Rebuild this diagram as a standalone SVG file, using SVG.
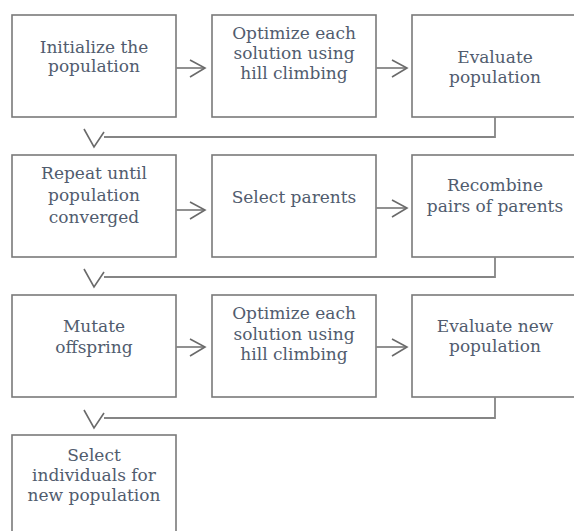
<svg xmlns="http://www.w3.org/2000/svg" width="574" height="531" viewBox="0 0 574 531">
<style>
.box{fill:#fff;stroke:#7a7a7a;stroke-width:1.6}
.t{font-family:"DejaVu Serif","Liberation Serif",serif;font-size:17px;fill:#515c6e;text-anchor:middle}
.c{fill:none;stroke:#858585;stroke-width:1.8}
.h{fill:none;stroke:#6a6a6a;stroke-width:1.6}
</style>
<rect width="574" height="531" fill="#fff"/>
<g id="n1"><rect class="box" x="12" y="15" width="164" height="102"/><text class="t" x="94" y="53">Initialize the</text><text class="t" x="94" y="72">population</text></g>
<g id="n2"><rect class="box" x="212" y="15" width="164" height="102"/><text class="t" x="294" y="39">Optimize each</text><text class="t" x="294" y="59">solution using</text><text class="t" x="294" y="79">hill climbing</text></g>
<g id="n3"><rect class="box" x="412" y="15" width="166" height="102"/><text class="t" x="495" y="63">Evaluate</text><text class="t" x="495" y="83">population</text></g>
<g id="n4"><rect class="box" x="12" y="155" width="164" height="102"/><text class="t" x="94" y="179">Repeat until</text><text class="t" x="94" y="201">population</text><text class="t" x="94" y="223">converged</text></g>
<g id="n5"><rect class="box" x="212" y="155" width="164" height="102"/><text class="t" x="294" y="203">Select parents</text></g>
<g id="n6"><rect class="box" x="412" y="155" width="166" height="102"/><text class="t" x="495" y="191">Recombine</text><text class="t" x="495" y="212">pairs of parents</text></g>
<g id="n7"><rect class="box" x="12" y="295" width="164" height="102"/><text class="t" x="94" y="332">Mutate</text><text class="t" x="94" y="353">offspring</text></g>
<g id="n8"><rect class="box" x="212" y="295" width="164" height="102"/><text class="t" x="294" y="319">Optimize each</text><text class="t" x="294" y="340">solution using</text><text class="t" x="294" y="360">hill climbing</text></g>
<g id="n9"><rect class="box" x="412" y="295" width="166" height="102"/><text class="t" x="495" y="332">Evaluate new</text><text class="t" x="495" y="352">population</text></g>
<g id="n10"><rect class="box" x="12" y="435" width="164" height="110"/><text class="t" x="94" y="461">Select</text><text class="t" x="94" y="481">individuals for</text><text class="t" x="94" y="501">new population</text></g>
<g id="connectors">
<path class="c" d="M176 68H205"/><path class="h" d="M190 60L205 68L190 77"/>
<path class="c" d="M376 68H407"/><path class="h" d="M392 60L407 68L392 77"/>
<path class="c" d="M495 117V137H104"/><path class="h" d="M84 129L94 147L104 132"/>
<path class="c" d="M176 210H205"/><path class="h" d="M190 202L205 210L190 219"/>
<path class="c" d="M376 208H407"/><path class="h" d="M392 200L407 208L392 217"/>
<path class="c" d="M495 257V277H104"/><path class="h" d="M84 269L94 287L104 272"/>
<path class="c" d="M176 347H205"/><path class="h" d="M190 339L205 347L190 356"/>
<path class="c" d="M376 347H407"/><path class="h" d="M392 339L407 347L392 356"/>
<path class="c" d="M495 397V418H104"/><path class="h" d="M84 410L94 428L104 413"/>
</g>
</svg>
